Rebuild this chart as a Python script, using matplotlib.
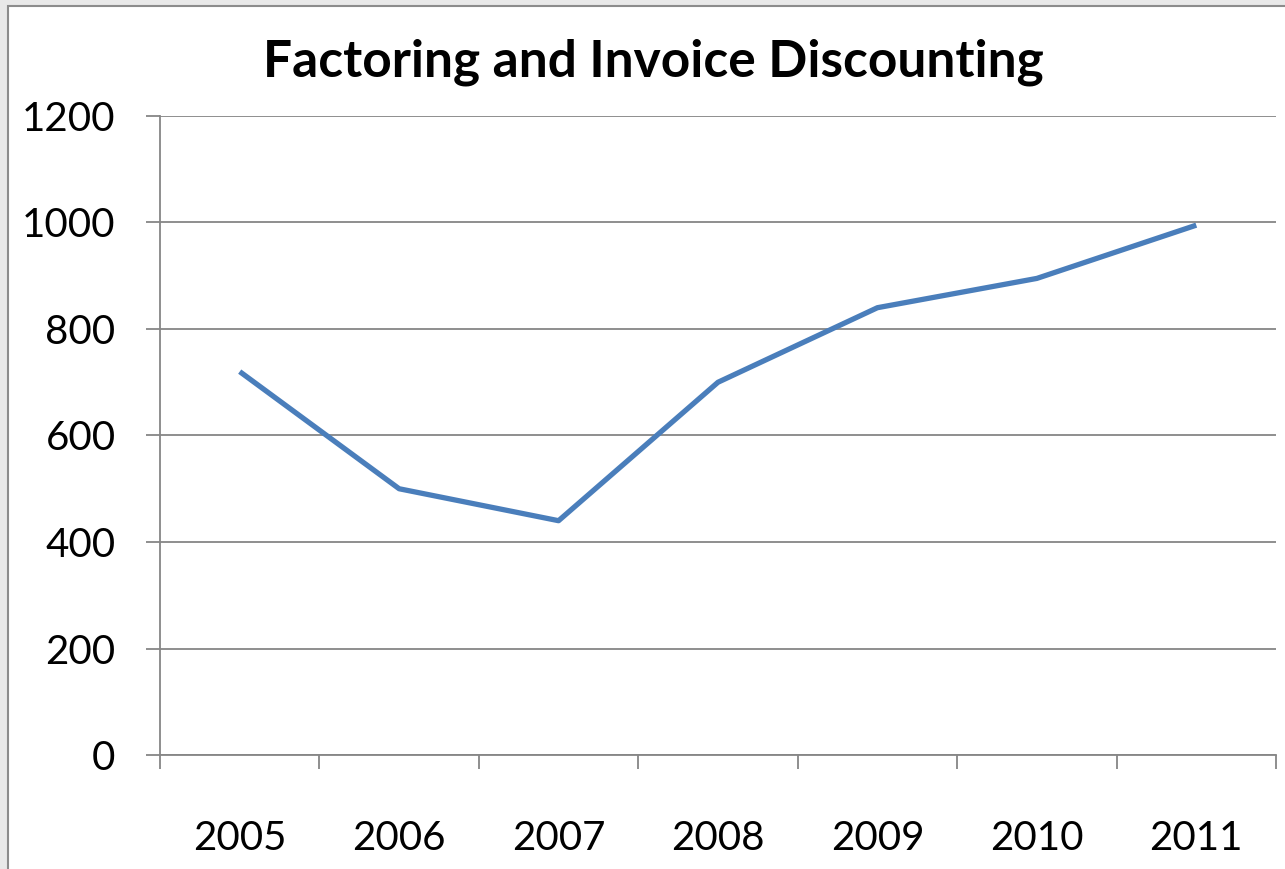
import matplotlib.pyplot as plt
from matplotlib.patches import Rectangle

years = ['2005', '2006', '2007', '2008', '2009', '2010', '2011']
values = [720, 500, 440, 700, 840, 895, 995]

plt.rcParams['font.family'] = ['Lato', 'DejaVu Sans']

fig = plt.figure(figsize=(12.85, 8.69), dpi=100)
fig.patch.set_facecolor('#e9e9e9')

# white chart box with grey border (slide background shows around it)
box = Rectangle((8 / 1285, -0.05), 1.2, 1 - 6 / 869 + 0.05, transform=fig.transFigure,
                facecolor='white', edgecolor='#8c8c8c', linewidth=1.5, zorder=-10)
fig.patches.append(box)

ax = fig.add_axes([160 / 1285, 1 - 755 / 869, (1276 - 160) / 1285, (755 - 116) / 869])
ax.set_facecolor('none')

x = list(range(len(years)))
ax.plot(x, values, color='#4a7ebb', linewidth=3.8, solid_capstyle='butt', zorder=3)

ax.set_xlim(-0.5, len(years) - 0.5)
ax.set_ylim(0, 1200)
ax.set_yticks(range(0, 1201, 200))
ax.grid(axis='y', color='#868686', linewidth=1.3)
ax.set_axisbelow(True)

ax.set_xticks([i - 0.5 for i in range(len(years) + 1)])
ax.set_xticklabels([])
ax.set_xticks(x, minor=True)
ax.set_xticklabels(years, minor=True)
ax.tick_params(axis='x', which='major', length=10, width=1.3, color='#868686', direction='out')
ax.tick_params(axis='x', which='minor', length=0, pad=47, labelsize=29)
ax.tick_params(axis='y', length=10, width=1.3, color='#868686', pad=22, labelsize=29)

for s in ['top', 'right']:
    ax.spines[s].set_visible(False)
for s in ['left', 'bottom']:
    ax.spines[s].set_color('#868686')
    ax.spines[s].set_linewidth(1.3)

fig.text(653 / 1285, 1 - 62 / 869, 'Factoring and Invoice Discounting',
         ha='center', va='center', fontsize=37, fontweight='bold')

fig.savefig('out.png', dpi=100, facecolor=fig.get_facecolor())
